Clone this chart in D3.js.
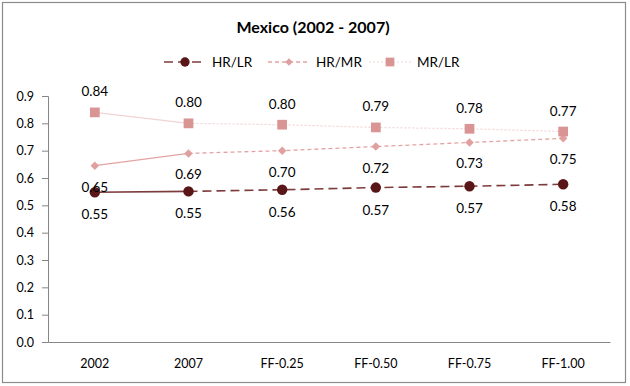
<!DOCTYPE html>
<html>
  <head>
    <meta charset="utf-8">
    <title>Mexico (2002 - 2007)</title>
    <script src="https://d3js.org/d3.v7.min.js"></script>
    <style>
      body { margin: 0; background: #fff; }
      text { font-family: Lato, "Noto Sans", sans-serif; }
    </style>
  </head>
  <body>
  <script>
  // data
  var categories = ["2002", "2007", "FF-0.25", "FF-0.50", "FF-0.75", "FF-1.00"];
  var hrLr = [0.548, 0.551, 0.557, 0.565, 0.57, 0.577];
  var hrMr = [0.645, 0.69, 0.70, 0.715, 0.73, 0.745];
  var mrLr = [0.84, 0.80, 0.795, 0.785, 0.78, 0.77];
  var hrLrLabels = ["0.55", "0.55", "0.56", "0.57", "0.57", "0.58"];
  var hrMrLabels = ["0.65", "0.69", "0.70", "0.72", "0.73", "0.75"];
  var mrLrLabels = ["0.84", "0.80", "0.80", "0.79", "0.78", "0.77"];
  var yTicks = [0, 0.1, 0.2, 0.3, 0.4, 0.5, 0.6, 0.7, 0.8, 0.9];

  var width = 630, height = 386;
  var margin = {top: 96, right: 20, bottom: 44, left: 48};

  var svg = d3.select("body").append("svg")
    .attr("width", width)
    .attr("height", height);

  // outer frame
  svg.append("rect")
    .attr("x", 2.5).attr("y", 2.5)
    .attr("width", 623).attr("height", 380)
    .attr("fill", "#fff")
    .attr("stroke", "#8c8c8c")
    .attr("stroke-width", 1.2);

  svg.append("text")
    .attr("x", 313).attr("y", 33)
    .attr("text-anchor", "middle")
    .attr("font-size", 16)
    .attr("font-weight", "bold")
    .text("Mexico (2002 - 2007)");

  var x = d3.scaleBand()
    .domain(categories)
    .range([margin.left, 610]);

  var y = d3.scaleLinear()
    .domain([0, 0.9])
    .range([342, margin.top]);

  // y axis
  var yAxis = svg.append("g")
    .attr("transform", "translate(" + margin.left + ",0)")
    .call(d3.axisLeft(y).tickValues(yTicks).tickFormat(d3.format(".1f")).tickSize(6).tickPadding(8));
  yAxis.select(".domain").attr("stroke", "#868686");
  yAxis.selectAll(".tick line").attr("stroke", "#868686");
  yAxis.selectAll("text").attr("font-size", 12.5).attr("fill", "#000");

  // x axis
  var xAxis = svg.append("g")
    .attr("transform", "translate(0,342)")
    .call(d3.axisBottom(x).tickSize(0).tickPadding(17));
  xAxis.select(".domain").attr("stroke", "#868686");
  xAxis.selectAll("text").attr("font-size", 12.5).attr("fill", "#000");

  var cx = function(i) { return x(categories[i]) + x.bandwidth() / 2; };

  var series = [
    {name: "HR/LR", values: hrLr, labels: hrLrLabels, line: "#7d3b3b", marker: "#5a1616",
     dash: "9,5", width: 1.6, shape: d3.symbolCircle, size: 85, rot: 0, dy: 27},
    {name: "HR/MR", values: hrMr, labels: hrMrLabels, line: "#e4a3a2", marker: "#e0a09f",
     dash: "4,3", width: 1.3, shape: d3.symbolSquare, size: 36, rot: 45, dy: 26},
    {name: "MR/LR", values: mrLr, labels: mrLrLabels, line: "#f3d3d3", marker: "#d99594",
     dash: "2,2", width: 1.2, shape: d3.symbolSquare, size: 95, rot: 0, dy: -16}
  ];

  var line = d3.line()
    .x(function(d) { return cx(d.i); })
    .y(function(d) { return y(d.v); });

  series.forEach(function(s) {
    var pts = s.values.map(function(v, i) { return {v: v, i: i}; });
    // first segment solid, rest dashed
    svg.append("path")
      .attr("d", line(pts.slice(0, 2)))
      .attr("fill", "none")
      .attr("stroke", s.line)
      .attr("stroke-width", s.width);
    svg.append("path")
      .attr("d", line(pts.slice(1)))
      .attr("fill", "none")
      .attr("stroke", s.line)
      .attr("stroke-width", s.width)
      .attr("stroke-dasharray", s.dash);
  });

  series.forEach(function(s) {
    svg.selectAll(null)
      .data(s.values)
      .enter()
      .append("path")
      .attr("d", d3.symbol().type(s.shape).size(s.size))
      .attr("transform", function(d, i) {
        return "translate(" + cx(i) + "," + y(d) + ") rotate(" + s.rot + ")";
      })
      .attr("fill", s.marker);
  });

  series.forEach(function(s) {
    svg.selectAll(null)
      .data(s.values)
      .enter()
      .append("text")
      .attr("x", function(d, i) { return cx(i); })
      .attr("y", function(d, i) { return y(d) + s.dy; })
      .attr("text-anchor", "middle")
      .attr("font-size", 13.5)
      .attr("fill", "#000")
      .text(function(d, i) { return s.labels[i]; });
  });

  // legend
  var legendX = [164, 268, 369];
  var legend = svg.selectAll(".legend")
    .data(series)
    .enter()
    .append("g")
    .attr("transform", function(d, i) { return "translate(" + legendX[i] + ",62)"; });

  legend.append("line")
    .attr("x1", 0).attr("x2", 42)
    .attr("stroke", function(d) { return d.line; })
    .attr("stroke-width", function(d) { return d.width; })
    .attr("stroke-dasharray", function(d) { return d.dash; });

  legend.append("path")
    .attr("d", function(d) { return d3.symbol().type(d.shape).size(d.size * 0.8)(); })
    .attr("transform", function(d) { return "translate(21,0) rotate(" + d.rot + ")"; })
    .attr("fill", function(d) { return d.marker; });

  legend.append("text")
    .attr("x", 48).attr("y", 5)
    .attr("font-size", 13.5)
    .attr("fill", "#000")
    .text(function(d) { return d.name; });
  </script>
  </body>
</html>
